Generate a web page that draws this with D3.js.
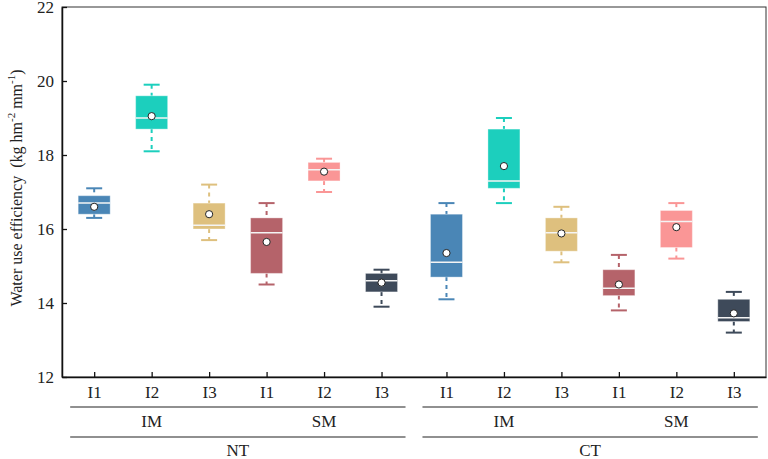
<!DOCTYPE html>
<html>
<head>
<meta charset="utf-8">
<script src="https://cdn.jsdelivr.net/npm/d3@7"></script>
<style>
  body { margin: 0; background: #fff; }
  text { font-family: "Liberation Serif", "Times New Roman", serif; fill: #222; }
</style>
</head>
<body>
<div id="chart"></div>
<script>
////////////////////////////  Data  ////////////////////////////////
const tillage = ["NT", "CT"];
const mulch = ["IM", "SM"];
const irrigation = ["I1", "I2", "I3"];

// one entry per box, NT-IM-I1 ... CT-SM-I3
const whiskerLow = [16.3, 18.1, 15.7, 14.5, 17.0, 13.9, 14.1, 16.7, 15.1, 13.8, 15.2, 13.2];
const q1 =         [16.4, 18.7, 16.0, 14.8, 17.3, 14.3, 14.7, 17.1, 15.4, 14.2, 15.5, 13.5];
const median =     [16.7, 19.0, 16.1, 15.9, 17.6, 14.6, 15.1, 17.3, 15.9, 14.4, 16.2, 13.6];
const q3 =         [16.9, 19.6, 16.7, 16.3, 17.8, 14.8, 16.4, 18.7, 16.3, 14.9, 16.5, 14.1];
const whiskerHigh =[17.1, 19.9, 17.2, 16.7, 17.9, 14.9, 16.7, 19.0, 16.6, 15.3, 16.7, 14.3];
const mean =       [16.6, 19.05, 16.4, 15.65, 17.55, 14.55, 15.35, 17.7, 15.88, 14.5, 16.05, 13.72];

const colors = ["#4a86b6", "#1ccfbd", "#dec07e", "#b5636a", "#fa9696", "#3e4a5a"];
const yTicks = [12, 14, 16, 18, 20, 22];

////////////////////////////  Init  ////////////////////////////////
const width = 768, height = 459;
const margin = { top: 7, right: 2, bottom: 82, left: 62 };

const svg = d3.select("#chart").append("svg")
  .attr("width", width).attr("height", height);

// build rows
const data = whiskerLow.map((d, i) => ({
  till: tillage[Math.floor(i / 6)],
  mulch: mulch[Math.floor(i / 3) % 2],
  irr: irrigation[i % 3],
  pos: i + (i >= 6 ? 0.13 : 0), // small gap between NT and CT
  lo: d, q1: q1[i], med: median[i], q3: q3[i], hi: whiskerHigh[i], mean: mean[i],
  color: colors[i % 6]
}));

const xScale = d3.scaleLinear().domain([-0.56, 11.69]).range([margin.left, width - margin.right]);
const yScale = d3.scaleLinear().domain([12, 22]).range([height - margin.bottom, margin.top]);

const boxW = 32, capW = 16;

// frame
svg.append("rect")
  .attr("x", margin.left).attr("y", margin.top)
  .attr("width", width - margin.right - margin.left)
  .attr("height", height - margin.bottom - margin.top)
  .attr("fill", "none").attr("stroke", "#333").attr("stroke-width", 1);

// y axis
const yAxis = d3.axisLeft(yScale).tickValues(yTicks).tickSizeInner(-5).tickSizeOuter(0).tickPadding(8);
const gy = svg.append("g").attr("transform", `translate(${margin.left},0)`).call(yAxis);
gy.select(".domain").attr("stroke", "#111").attr("stroke-width", 1.5);
gy.selectAll(".tick line").attr("stroke", "#111").attr("stroke-width", 1.3);
gy.selectAll("text").attr("font-size", 17).attr("fill", "#222")
  .style("font-family", "Liberation Serif, serif");

// x axis
const xAxis = d3.axisBottom(xScale).tickValues(data.map(d => d.pos))
  .tickFormat((d, i) => data[i].irr).tickSizeInner(-5).tickSizeOuter(0).tickPadding(9);
const gx = svg.append("g").attr("transform", `translate(0,${height - margin.bottom})`).call(xAxis);
gx.select(".domain").attr("stroke", "#111").attr("stroke-width", 1.5);
gx.selectAll(".tick line").attr("stroke", "#111").attr("stroke-width", 1.3);
gx.selectAll("text").attr("font-size", 17).attr("fill", "#222")
  .style("font-family", "Liberation Serif, serif");

// group labels + rules
const span = xScale(5) - xScale(0);
tillage.forEach((t, ti) => {
  const p0 = xScale(data[ti * 6].pos), p1 = xScale(data[ti * 6 + 5].pos);
  const cx = (p0 + p1) / 2, half = span / 2 + 24;
  [407, 437].forEach(yy => {
    svg.append("line").attr("x1", cx - half).attr("x2", cx + half)
      .attr("y1", yy).attr("y2", yy).attr("stroke", "#222").attr("stroke-width", 1.2);
  });
  svg.append("text").attr("x", cx).attr("y", 456).attr("text-anchor", "middle")
    .attr("font-size", 17).text(t);
  mulch.forEach((m, mi) => {
    const mid = data[ti * 6 + mi * 3 + 1].pos;
    svg.append("text").attr("x", xScale(mid)).attr("y", 427).attr("text-anchor", "middle")
      .attr("font-size", 17).text(m);
  });
});

// y title
const yt = svg.append("text")
  .attr("transform", `translate(22,188) rotate(-90)`)
  .attr("text-anchor", "middle").attr("font-size", 16);
yt.append("tspan").text("Water use efficiency\u00a0\u00a0(kg hm");
yt.append("tspan").attr("dy", -7).attr("font-size", 11).text("-2");
yt.append("tspan").attr("dy", 7).text(" mm");
yt.append("tspan").attr("dy", -7).attr("font-size", 11).text("-1");
yt.append("tspan").attr("dy", 7).text(")");

////////////////////////////  Boxes  ////////////////////////////////
const boxes = svg.append("g").selectAll("g").data(data).join("g")
  .attr("transform", d => `translate(${xScale(d.pos)},0)`);

// whiskers (dashed)
boxes.append("line").attr("y1", d => yScale(d.hi)).attr("y2", d => yScale(d.q3))
  .attr("stroke", d => d.color).attr("stroke-width", 2).attr("stroke-dasharray", "4,4");
boxes.append("line").attr("y1", d => yScale(d.q1)).attr("y2", d => yScale(d.lo))
  .attr("stroke", d => d.color).attr("stroke-width", 2).attr("stroke-dasharray", "4,4");

// caps
boxes.append("line").attr("x1", -capW / 2).attr("x2", capW / 2)
  .attr("y1", d => yScale(d.hi)).attr("y2", d => yScale(d.hi))
  .attr("stroke", d => d.color).attr("stroke-width", 2);
boxes.append("line").attr("x1", -capW / 2).attr("x2", capW / 2)
  .attr("y1", d => yScale(d.lo)).attr("y2", d => yScale(d.lo))
  .attr("stroke", d => d.color).attr("stroke-width", 2);

// box
boxes.append("rect").attr("x", -boxW / 2).attr("width", boxW)
  .attr("y", d => yScale(d.q3)).attr("height", d => yScale(d.q1) - yScale(d.q3))
  .attr("fill", d => d.color).attr("stroke", "#fff").attr("stroke-opacity", 0.35).attr("stroke-width", 1);

// median
boxes.append("line").attr("x1", -boxW / 2).attr("x2", boxW / 2)
  .attr("y1", d => yScale(d.med)).attr("y2", d => yScale(d.med))
  .attr("stroke", "#f4f4f4").attr("stroke-width", 1.5);

// mean
boxes.append("circle").attr("cy", d => yScale(d.mean)).attr("r", 3.6)
  .attr("fill", "#fff").attr("stroke", "#222").attr("stroke-width", 1);
</script>
</body>
</html>
